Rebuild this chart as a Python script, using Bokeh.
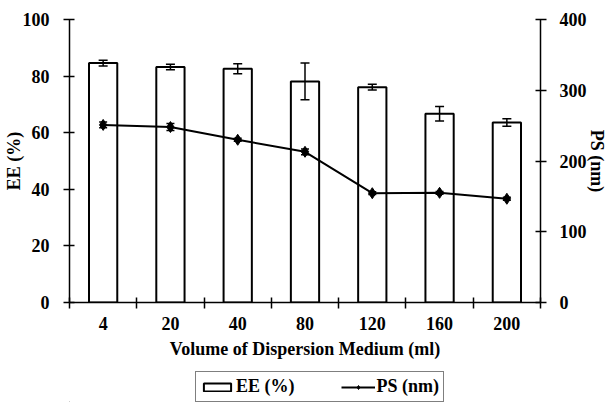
import numpy as np
from bokeh.plotting import figure
from bokeh.layouts import column
from bokeh.models import (ColumnDataSource, Range1d, LinearAxis, FixedTicker,
                          Whisker, TeeHead, Legend, LegendItem)
from bokeh.embed import file_html
from bokeh.resources import INLINE

# ---- data ----
volumes = ["4", "20", "40", "80", "120", "160", "200"]
ee = [84.6, 83.2, 82.6, 78.1, 76.1, 66.7, 63.6]
ee_err = [1.0, 1.0, 1.8, 6.5, 1.0, 2.6, 1.3]
ps = [251, 248, 230, 213, 154.5, 155, 146.6]
ps_err = [4, 5, 2, 4, 2, 2, 2]
ee_ticks = [0, 20, 40, 60, 80, 100]
ps_ticks = [0, 100, 200, 300, 400]
series_labels = ["EE (%)", "PS (nm)"]

FONT = "Liberation Serif"
n = len(volumes)
xc = np.arange(n) + 0.5
src = ColumnDataSource(dict(
    x=xc, ee=ee, ee_lo=np.array(ee) - np.array(ee_err), ee_hi=np.array(ee) + np.array(ee_err),
    ps=ps, ps_lo=np.array(ps) - np.array(ps_err), ps_hi=np.array(ps) + np.array(ps_err)))

p = figure(frame_width=471, frame_height=283, output_backend="svg", toolbar_location=None,
           x_range=Range1d(0, n), y_range=Range1d(ee_ticks[0], ee_ticks[-1]),
           min_border_left=68, min_border_right=70, min_border_top=19, min_border_bottom=68,
           x_axis_location=None, y_axis_location=None)
p.extra_y_ranges = {"ps": Range1d(ps_ticks[0], ps_ticks[-1])}
p.grid.visible = False
p.outline_line_color = None
p.background_fill_color = "white"
p.border_fill_color = "white"

def style_axis(ax):
    ax.axis_line_color = "black"
    ax.axis_line_width = 1.5
    ax.major_tick_line_color = "black"
    ax.major_tick_line_width = 1.5
    ax.minor_tick_line_color = "black"
    ax.minor_tick_line_width = 1.5
    ax.major_label_text_font = FONT
    ax.major_label_text_font_style = "bold"
    ax.major_label_text_font_size = "18px"
    ax.major_label_text_color = "black"
    ax.axis_label_text_font = FONT
    ax.axis_label_text_font_style = "bold"
    ax.axis_label_text_font_size = "18px"
    ax.axis_label_text_color = "black"

# x axis: labels at category centres, ticks at category boundaries
xax = LinearAxis(ticker=FixedTicker(ticks=list(xc), minor_ticks=list(range(n + 1))),
                 axis_label="Volume of Dispersion Medium (ml)")
style_axis(xax)
xax.major_label_overrides = {float(v): lab for v, lab in zip(xc, volumes)}
xax.major_tick_in = 0
xax.major_tick_out = 0
xax.minor_tick_in = 5
xax.minor_tick_out = 6
xax.major_label_standoff = 8
xax.axis_label_standoff = 6
p.add_layout(xax, "below")

yax = LinearAxis(ticker=FixedTicker(ticks=ee_ticks), axis_label=series_labels[0])
style_axis(yax)
yax.major_tick_in = 5
yax.major_tick_out = 6
yax.minor_tick_out = 0
yax.major_label_standoff = 14
yax.axis_label_standoff = -4
p.add_layout(yax, "left")

y2 = LinearAxis(y_range_name="ps", ticker=FixedTicker(ticks=ps_ticks), axis_label=series_labels[1])
style_axis(y2)
y2.major_tick_in = 5
y2.major_tick_out = 6
y2.minor_tick_out = 0
y2.major_label_standoff = 13
y2.axis_label_standoff = -3
p.add_layout(y2, "right")

bar_style = dict(fill_color="white", line_color="black", line_width=2)
line_style = dict(line_color="black", line_width=2)
pt_style = dict(marker="diamond", size=11, fill_color="black", line_color="black")

p.vbar(x="x", top="ee", bottom=0, width=0.42, source=src, **bar_style)
p.add_layout(Whisker(source=src, base="x", lower="ee_lo", upper="ee_hi", level="overlay",
                     line_color="black", line_width=1.5,
                     lower_head=TeeHead(size=9, line_color="black", line_width=1.5),
                     upper_head=TeeHead(size=9, line_color="black", line_width=1.5)))

p.line(x="x", y="ps", source=src, y_range_name="ps", **line_style)
p.scatter(x="x", y="ps", source=src, y_range_name="ps", **pt_style)
p.add_layout(Whisker(source=src, base="x", lower="ps_lo", upper="ps_hi", y_range_name="ps",
                     level="overlay", line_color="black", line_width=1.5,
                     lower_head=TeeHead(size=8, line_color="black", line_width=1.5),
                     upper_head=TeeHead(size=8, line_color="black", line_width=1.5)))

# ---- legend strip below the chart (proxy glyphs lie far outside its visible range) ----
lg = figure(width=609, height=32, output_backend="svg", toolbar_location=None,
            x_range=Range1d(0, 1), y_range=Range1d(0, 1),
            min_border=0, x_axis_location=None, y_axis_location=None)
lg.grid.visible = False
lg.outline_line_color = None
lg.background_fill_color = "white"
lg.border_fill_color = "white"
proxy = ColumnDataSource(dict(x=[-1000.0], y=[-1000.0]))
r_bar = lg.vbar(x="x", top="y", bottom="y", width=0.1, source=proxy, **bar_style)
r_line = lg.line(x="x", y="y", source=proxy, **line_style)
r_pt = lg.scatter(x="x", y="y", source=proxy, **pt_style)

legend = Legend(items=[LegendItem(label=series_labels[0], renderers=[r_bar]),
                       LegendItem(label=series_labels[1], renderers=[r_line, r_pt])],
                orientation="horizontal", location=(126, 0),
                border_line_color="black", border_line_width=1.5,
                padding=4, spacing=46, margin=0,
                glyph_width=34, glyph_height=10, label_height=18, label_standoff=2,
                label_text_font=FONT, label_text_font_style="bold",
                label_text_font_size="18px", label_text_color="black")
lg.add_layout(legend, "center")

layout = column(p, lg, spacing=0)
open("out.html", "w").write(file_html(layout, INLINE))
